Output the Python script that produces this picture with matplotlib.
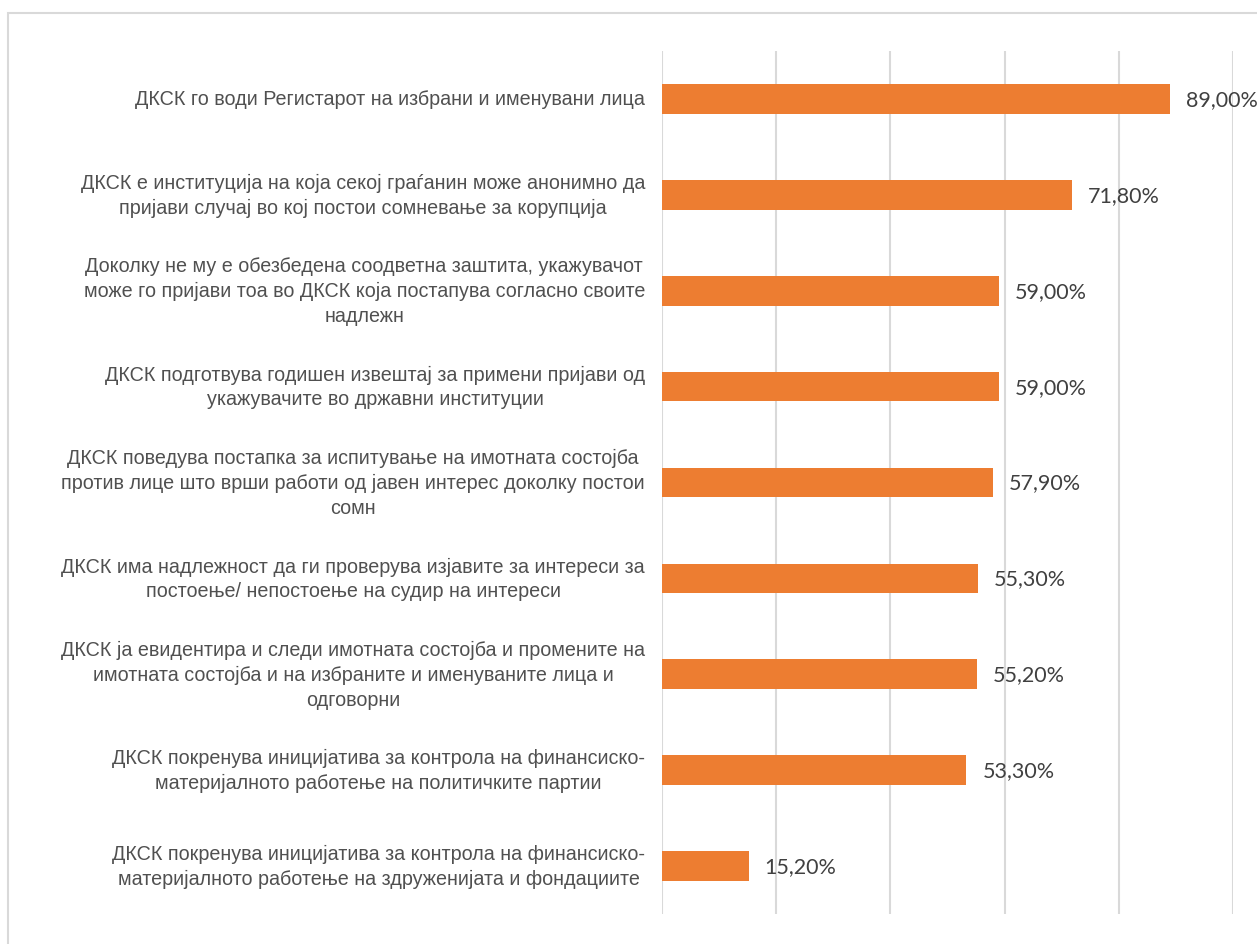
import matplotlib.pyplot as plt
from matplotlib.patches import Rectangle

# податоци (од горе надолу)
labels = [
    "ДКСК го води Регистарот на избрани и именувани лица",
    "ДКСК е институција на која секој граѓанин може анонимно да\nпријави случај во кој постои сомневање за корупција",
    "Доколку не му е обезбедена соодветна заштита, укажувачот\nможе го пријави тоа во ДКСК која постапува согласно своите\nнадлежн",
    "ДКСК подготвува годишен извештај за примени пријави од\nукажувачите во државни институции",
    "ДКСК поведува постапка за испитување на имотната состојба\nпротив лице што врши работи од јавен интерес доколку постои\nсомн",
    "ДКСК има надлежност да ги проверува изјавите за интереси за\nпостоење/ непостоење на судир на интереси",
    "ДКСК ја евидентира и следи имотната состојба и промените на\nимотната состојба и на избраните и именуваните лица и\nодговорни",
    "ДКСК покренува иницијатива за контрола на финансиско-\nматеријалното работење на политичките партии",
    "ДКСК покренува иницијатива за контрола на финансиско-\nматеријалното работење на здруженијата и фондациите",
]
values = [89.0, 71.8, 59.0, 59.0, 57.9, 55.3, 55.2, 53.3, 15.2]
value_labels = ["89,00%", "71,80%", "59,00%", "59,00%", "57,90%", "55,30%", "55,20%", "53,30%", "15,20%"]

W, H = 1257, 945
fig = plt.figure(figsize=(W / 100, H / 100), dpi=100)

# рамка на графиконот (исечена десно и долу)
fig.patches.append(Rectangle((8 / W, -0.1), 1.2, 1 - 14 / H + 0.1, transform=fig.transFigure,
                             fill=False, edgecolor="#D9D9D9", linewidth=1.5))

ax = fig.add_axes([662 / W, 1 - 915 / H, (1233 - 662) / W, (915 - 52) / H])
ypos = list(range(len(values)))
ax.barh(ypos, values, height=0.31, color="#ED7D31", zorder=3)
ax.set_xlim(0, 100)
ax.set_ylim(len(values) - 0.5, -0.5)
ax.set_xticks([0, 20, 40, 60, 80, 100])
ax.grid(axis="x", color="#D9D9D9", linewidth=1.5, zorder=0)
ax.tick_params(left=False, bottom=False, labelbottom=False, labelleft=False)
for s in ax.spines.values():
    s.set_visible(False)

for y, v, t in zip(ypos, values, value_labels):
    ax.annotate(t, (v, y), xytext=(16, 0), textcoords="offset pixels", va="center", ha="left",
                fontsize=15.5, color="#404040", family=["Lato", "DejaVu Sans"])

for y, lab in zip(ypos, labels):
    ax.annotate(lab, (0, y), xycoords=("axes fraction", "data"), xytext=(-17, 0),
                textcoords="offset pixels", ha="right", va="center", multialignment="center",
                fontsize=14.2, color="#505050", family=["Liberation Sans", "DejaVu Sans"],
                linespacing=1.38)

fig.savefig("out.png", dpi=100)
